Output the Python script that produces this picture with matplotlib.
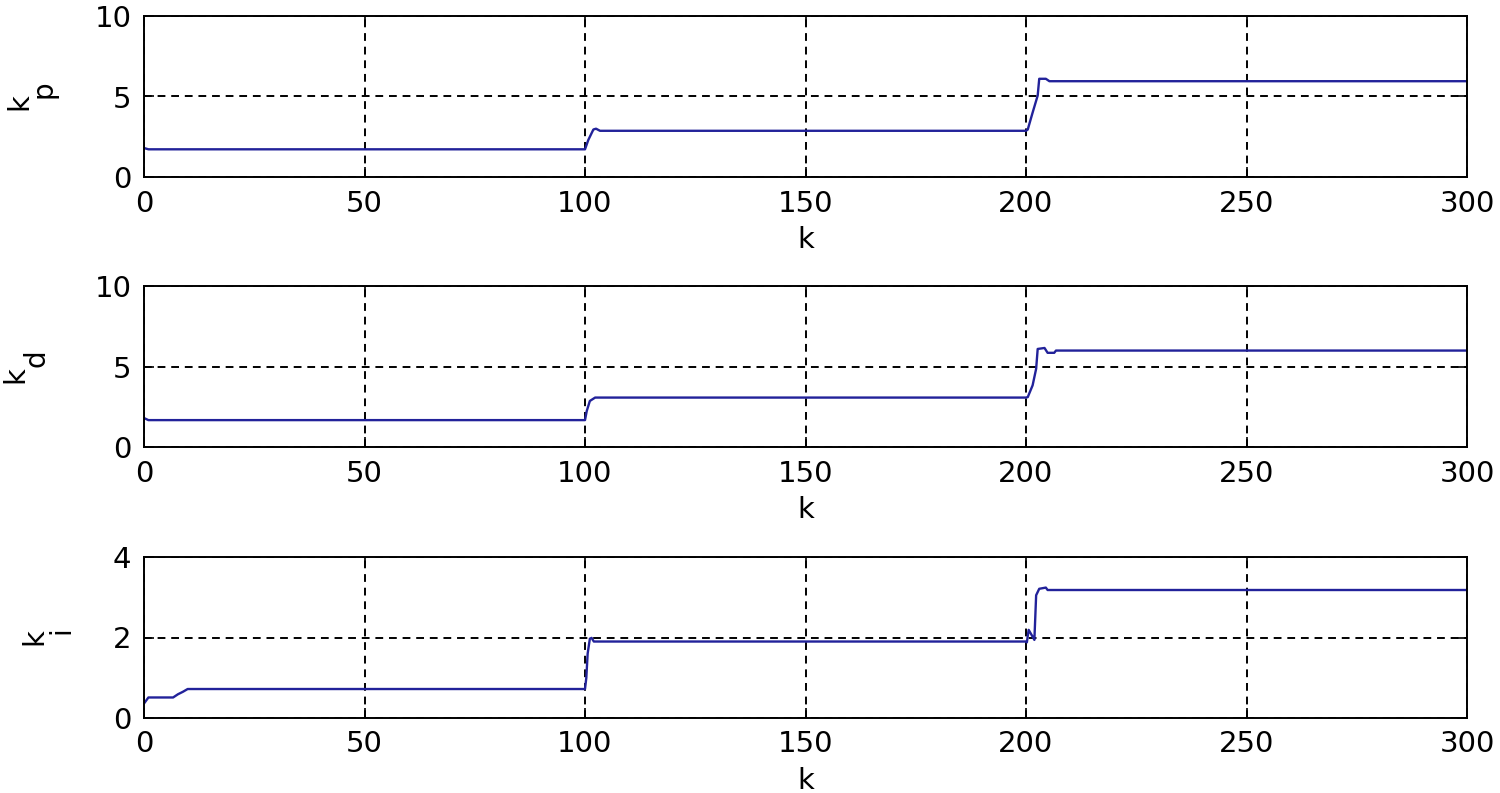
import matplotlib
matplotlib.use("Agg")
import matplotlib.pyplot as plt

plt.rcParams['font.family'] = ['DejaVu Sans']

# breakpoints (k, gain)
kp_k = [0, 1, 100, 100.75, 101.9, 102.5, 103.4, 200, 200.4, 201.5, 202.65, 203.0, 204.5, 205.3, 300]
kp_v = [1.8, 1.72, 1.72, 2.3, 2.95, 3.0, 2.87, 2.87, 2.95, 4.0, 5.06, 6.1, 6.1, 5.95, 5.95]

kd_k = [0, 1, 100, 100.4, 101.1, 102.3, 200, 200.4, 201.5, 202.3, 202.65, 204.2, 204.9, 206.4, 206.8, 300]
kd_v = [1.8, 1.67, 1.67, 2.24, 2.86, 3.07, 3.07, 3.1, 3.83, 4.86, 6.09, 6.15, 5.85, 5.85, 5.99, 5.99]

ki_k = [0, 1.0, 6.6, 7.7, 8.8, 9.9, 100, 100.3, 100.6, 101.1, 101.5, 102, 200, 200.2, 200.6, 201.5,
        201.9, 202.3, 203.0, 204.5, 204.9, 300]
ki_v = [0.36, 0.51, 0.51, 0.59, 0.65, 0.72, 0.72, 1.0, 1.6, 1.97, 1.99, 1.9, 1.9, 1.88, 2.19, 2.02,
        1.94, 3.05, 3.21, 3.24, 3.18, 3.18]

yticks_10 = [0, 5, 10]
yticks_4 = [0, 2, 4]
xticks = [0, 50, 100, 150, 200, 250, 300]

# letter and subscript centres in pixels for the y labels
panels = [
    (kp_k, kp_v, 'p', [0, 10], yticks_10, (19, 102), (43, 89)),
    (kd_k, kd_v, 'd', [0, 10], yticks_10, (15, 375), (37, 358)),
    (ki_k, ki_v, 'i', [0, 4], yticks_4, (34, 637), (61, 630)),
]

W, H = 1500, 793
fig = plt.figure(figsize=(15, 7.93), dpi=100)
left = 144 / W
width = (1467 - 144) / W
tops = [16, 286, 557]
h = 161

for (kk, vv, sub, ylim, yt, kpos, spos), top in zip(panels, tops):
    ax = fig.add_axes([left, 1 - (top + h) / H, width, h / H])
    ax.plot(kk, vv, color='#22229a', lw=1.7)
    ax.set_xlim(0, 300)
    ax.set_ylim(*ylim)
    ax.set_xticks(xticks)
    ax.set_yticks(yt)
    ax.grid(True, color='black', linestyle=(0, (4, 3)), linewidth=1.4)
    ax.tick_params(direction='in', top=True, right=True, length=7, width=1.2,
                   labelsize=21)
    ax.tick_params(axis='x', pad=9)
    ax.tick_params(axis='y', pad=9)
    for s in ax.spines.values():
        s.set_linewidth(1.4)
    ax.set_xlabel('k', fontsize=21, labelpad=6)
    fig.text(kpos[0] / W, 1 - kpos[1] / H, 'k', rotation=90, ha='center', va='center',
             fontsize=21)
    fig.text(spos[0] / W, 1 - spos[1] / H, sub, rotation=90, ha='center', va='center',
             fontsize=20)

fig.savefig('out.png', dpi=100)
